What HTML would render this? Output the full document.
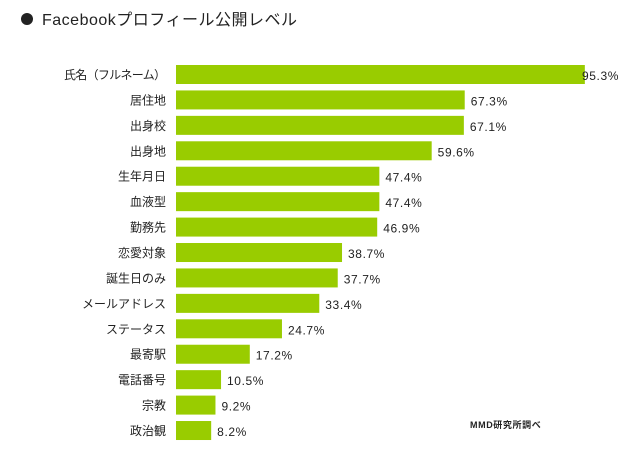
<!DOCTYPE html>
<html><head><meta charset="utf-8"><style>
body{margin:0;background:#fff;width:638px;height:451px;overflow:hidden;font-family:"Liberation Sans","Noto Sans CJK JP",sans-serif;}
</style></head><body>
<svg width="638" height="451">
<circle cx="27" cy="19" r="6" fill="#222"/>
<text x="42" y="25" font-size="16" fill="#222" letter-spacing="0.5" font-family="Liberation Sans, Noto Sans CJK JP, sans-serif">Facebookプロフィール公開レベル</text>
<g id="bars"></g>
<text x="470" y="428" font-size="9" font-weight="bold" letter-spacing="0.6" fill="#222" font-family="Liberation Sans, Noto Sans CJK JP, sans-serif">MMD研究所調べ</text>
</svg>
<script>
const categories=["氏名（フルネーム）","居住地","出身校","出身地","生年月日","血液型","勤務先","恋愛対象","誕生日のみ","メールアドレス","ステータス","最寄駅","電話番号","宗教","政治観"];
const values=[95.3,67.3,67.1,59.6,47.4,47.4,46.9,38.7,37.7,33.4,24.7,17.2,10.5,9.2,8.2];
const x0=176,scale=4.29,y0=65,pitch=25.43,bh=19;
const xs=v=>v*scale;
const g=document.getElementById('bars');
const NS='http://www.w3.org/2000/svg';
categories.forEach((c,i)=>{
  const y=y0+i*pitch;
  const r=document.createElementNS(NS,'rect');
  r.setAttribute('x',x0);r.setAttribute('y',y);r.setAttribute('width',xs(values[i]));r.setAttribute('height',bh);r.setAttribute('fill','#99cc00');
  
  
  g.appendChild(r);
  const t=document.createElementNS(NS,'text');
  t.setAttribute('x',166);t.setAttribute('y',y+14);t.setAttribute('text-anchor','end');t.setAttribute('font-size','12');t.setAttribute('fill','#222');
  if(i===0){t.setAttribute('textLength','102');}
  t.textContent=c;
  
  
  g.appendChild(t);
  const v=document.createElementNS(NS,'text');
  let vx=x0+xs(values[i])+6; if(vx>582) vx=582;
  v.setAttribute('x',vx);v.setAttribute('y',y+15);v.setAttribute('font-size','12');v.setAttribute('fill','#222');v.setAttribute('letter-spacing','0.6');
  v.textContent=values[i].toFixed(1)+'%';
  
  
  g.appendChild(v);
});
</script>
</body></html>
